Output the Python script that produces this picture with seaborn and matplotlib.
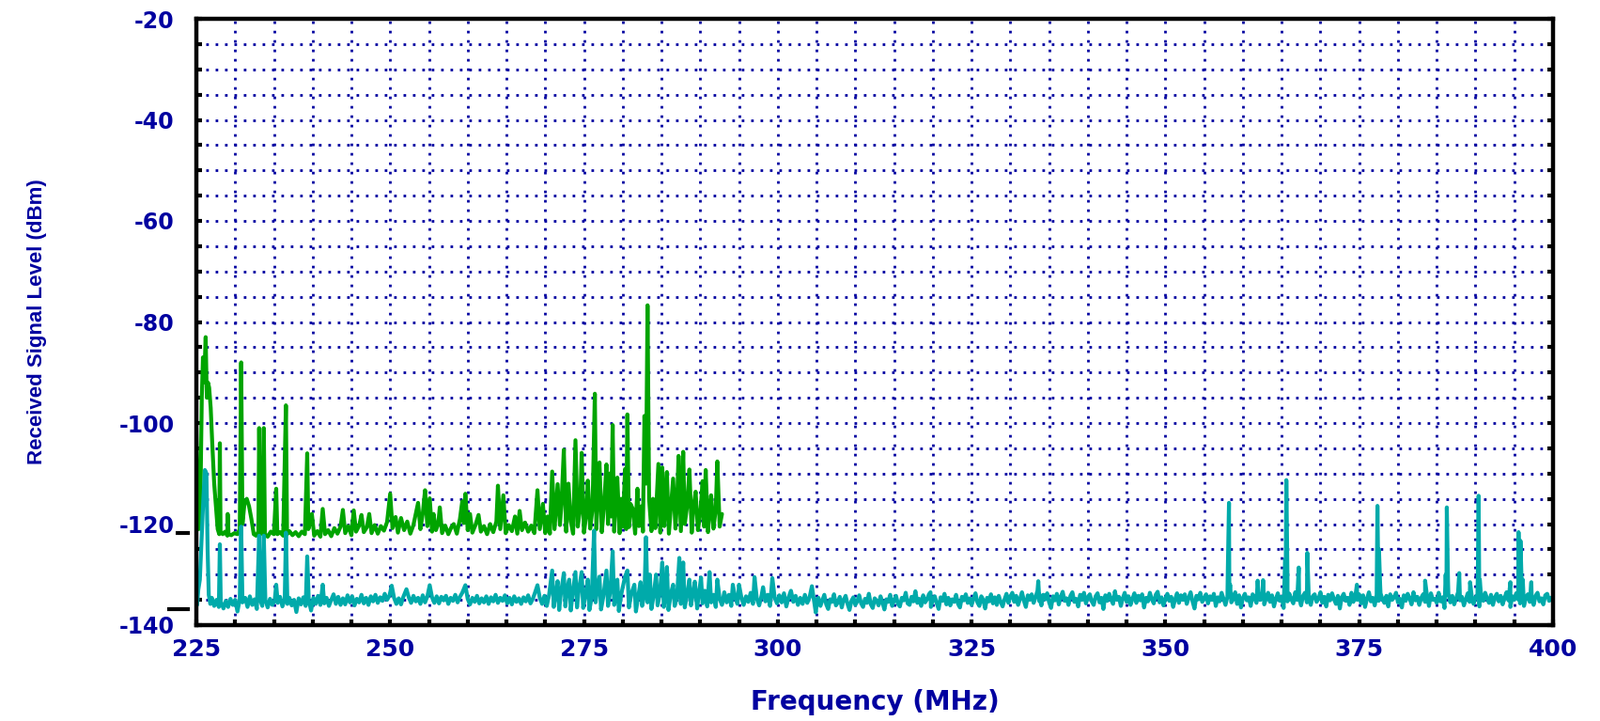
import numpy as np
import pandas as pd
import matplotlib
matplotlib.use("Agg")
import matplotlib.pyplot as plt
import matplotlib.transforms as mtransforms
from matplotlib.ticker import MultipleLocator
import seaborn as sns

# upper trace (green): frequency in MHz, level in dBm
green_freq = [
    225.0, 225.15, 225.3, 225.5, 225.7, 225.85, 226.0, 226.2, 226.35, 226.5,
    226.65, 226.85, 227.05, 227.3, 227.55, 227.75, 227.95, 228.03, 228.12, 228.4,
    228.7, 229.0, 229.04, 229.15, 229.5, 229.9, 230.3, 230.6, 230.78, 230.95,
    231.2, 231.5, 231.8, 232.1, 232.4, 232.7, 233.0, 233.1, 233.25, 233.5,
    233.7, 233.85, 234.2, 234.6, 235.0, 235.3, 235.45, 235.8, 236.2, 236.55,
    236.7, 237.0, 237.4, 237.8, 238.2, 238.6, 239.0, 239.3, 239.45, 239.9,
    240.2, 240.6, 241.0, 241.3, 241.6, 242.0, 242.4, 242.8, 243.2, 243.6,
    243.9, 244.2, 244.6, 245.0, 245.3, 245.6, 246.0, 246.3, 246.6, 247.0,
    247.3, 247.6, 248.0, 248.4, 248.8, 249.2, 249.6, 250.0, 250.3, 250.7,
    251.0, 251.4, 251.8, 252.2, 252.6, 253.0, 253.6, 253.9, 254.2, 254.5,
    254.8, 255.1, 255.4, 255.6, 255.9, 256.2, 256.4, 256.7, 257.1, 257.5,
    257.9, 258.2, 258.6, 259.0, 259.3, 259.5, 259.7, 260.0, 260.3, 260.6,
    261.0, 261.4, 261.7, 262.1, 262.5, 262.9, 263.3, 263.7, 263.9, 264.2,
    264.6, 264.9, 265.3, 265.7, 266.1, 266.4, 266.7, 267.0, 267.4, 267.8,
    268.2, 268.6, 269.0, 269.3, 269.7, 270.0, 270.3, 270.6, 270.9, 271.2,
    271.6, 271.9, 272.1, 272.4, 272.7, 273.0, 273.3, 273.6, 273.9, 274.2,
    274.5, 274.7, 275.0, 275.3, 275.5, 275.8, 276.1, 276.4, 276.6, 276.8,
    277.0, 277.3, 277.6, 277.9, 278.1, 278.3, 278.5, 278.7, 278.9, 279.1,
    279.3, 279.6, 279.8, 280.0, 280.3, 280.45, 280.6, 280.8, 281.0, 281.3,
    281.6, 281.9, 282.1, 282.4, 282.6, 282.8, 283.0, 283.2, 283.4, 283.7,
    283.9, 284.2, 284.4, 284.6, 284.85, 285.1, 285.35, 285.5, 285.7, 285.95,
    286.2, 286.5, 286.8, 287.0, 287.2, 287.5, 287.8, 288.0, 288.3, 288.6,
    288.9, 289.1, 289.4, 289.7, 290.0, 290.3, 290.5, 290.7, 291.0, 291.2,
    291.4, 291.7, 292.0, 292.2, 292.5, 292.8,
]
green_level = [
    -101, -112, -121, -118, -95, -87, -92, -83, -95, -92,
    -93, -97, -104, -112, -117, -121, -122, -104, -121.5, -122,
    -121.5, -122.3, -118, -122, -122.2, -121.8, -122, -121, -88, -120,
    -116, -115, -116.5, -119, -122, -122.3, -121.5, -101, -122, -121.8,
    -101, -122, -122.5, -121.5, -122, -113, -122, -121.6, -122.3, -96.5,
    -122, -121.4, -122.2, -121.6, -122.4, -121.5, -122, -106, -121, -118,
    -122.3, -121.4, -122.5, -117, -122, -121.2, -122.4, -120.8, -121.9, -120.5,
    -117.2, -121.8, -120.4, -122.2, -117.3, -121.5, -120.3, -118.2, -121.6, -120.6,
    -118, -121.8, -120.2, -121.9, -120.4, -121.3, -119.6, -114, -120.8, -118.6,
    -121.7, -118.8, -121.2, -119.5, -121.9, -120.2, -115.8, -121, -118, -113.3,
    -120.4, -114.9, -121.5, -118, -121.2, -120, -116.7, -121.8, -120.3, -122,
    -120.6, -120, -121.9, -119, -115.5, -119.8, -114, -121.2, -118, -121.7,
    -120.2, -118.2, -121.5, -120.4, -122, -120, -121.6, -119.5, -112.4, -121,
    -114.3, -121.8, -120.2, -121.4, -118.5, -121.9, -117.4, -121.2, -119.7, -121.5,
    -120.3, -121.8, -113.3, -121, -116, -121.8, -118.5, -121.9, -109.6, -121,
    -112.1, -120.2, -116, -105.3, -121.5, -112, -119.5, -121.9, -103.4, -120.5,
    -117, -105.9, -121.7, -118, -111.4, -120.9, -117, -94.2, -121, -114,
    -107.8, -121.6, -116, -108.2, -120, -110, -118.5, -100.4, -121.5, -115.5,
    -110.8, -121.8, -115, -120.5, -109.1, -121, -98.3, -120.6, -116, -117,
    -121.9, -113, -120.4, -116.5, -121.5, -98.6, -112, -76.7, -115, -121.4,
    -115, -120.8, -114.5, -108.1, -121.7, -108.8, -120.4, -115.5, -109.7, -121.9,
    -117, -111, -120.9, -116, -106.5, -121.4, -105.7, -120, -116.5, -109.2,
    -121.7, -117, -113.6, -121.2, -118, -111.5, -120.5, -109.3, -121.6, -117.5,
    -114.3, -120.9, -117, -107.6, -120.5, -118,
]

# lower trace (teal), 225-305 MHz read point by point
teal_freq_low = [
    225.0, 225.1, 225.25, 225.45, 225.65, 225.9, 226.1, 226.3, 226.45, 226.6,
    226.8, 227.0, 227.3, 227.6, 227.9, 228.03, 228.15, 228.5, 228.8, 229.1,
    229.4, 229.7, 230.0, 230.3, 230.6, 230.78, 230.95, 231.3, 231.6, 231.9,
    232.2, 232.5, 232.8, 233.1, 233.3, 233.5, 233.7, 233.9, 234.2, 234.5,
    234.8, 235.1, 235.3, 235.5, 235.8, 236.1, 236.4, 236.55, 236.75, 237.0,
    237.3, 237.6, 237.9, 238.2, 238.5, 238.8, 239.1, 239.3, 239.5, 239.8,
    240.1, 240.4, 240.7, 241.0, 241.3, 241.5, 241.8, 242.1, 242.4, 242.7,
    243.0, 243.3, 243.6, 243.9, 244.2, 244.5, 244.8, 245.1, 245.4, 245.7,
    246.0, 246.3, 246.6, 246.9, 247.2, 247.5, 247.8, 248.1, 248.4, 248.7,
    249.0, 249.3, 249.6, 249.9, 250.2, 250.5, 250.8, 251.1, 251.4, 251.7,
    252.1, 252.4, 252.7, 253.0, 253.3, 253.6, 253.9, 254.2, 254.5, 254.8,
    255.1, 255.4, 255.7, 256.0, 256.3, 256.6, 256.9, 257.2, 257.5, 257.8,
    258.1, 258.4, 258.7, 259.0, 259.3, 259.7, 260.0, 260.3, 260.6, 260.9,
    261.2, 261.5, 261.8, 262.1, 262.4, 262.7, 263.0, 263.3, 263.6, 263.9,
    264.2, 264.5, 264.8, 265.1, 265.4, 265.7, 266.0, 266.3, 266.6, 266.9,
    267.2, 267.5, 267.8, 268.1, 268.4, 268.7, 269.0, 269.3, 269.6, 269.9,
    270.2, 270.5, 270.9, 271.1, 271.3, 271.6, 271.8, 272.0, 272.4, 272.6,
    272.8, 273.1, 273.3, 273.5, 273.9, 274.1, 274.3, 274.7, 274.9, 275.2,
    275.5, 275.7, 276.0, 276.3, 276.5, 276.7, 277.0, 277.2, 277.5, 277.9,
    278.1, 278.4, 278.7, 278.9, 279.1, 279.3, 279.5, 279.8, 280.0, 280.3,
    280.6, 280.8, 281.1, 281.5, 281.7, 282.0, 282.3, 282.5, 282.8, 283.0,
    283.2, 283.5, 283.7, 284.0, 284.3, 284.5, 284.8, 285.1, 285.3, 285.5,
    285.7, 285.9, 286.2, 286.5, 286.7, 287.0, 287.3, 287.5, 287.8, 288.0,
    288.3, 288.6, 288.8, 289.1, 289.3, 289.6, 289.8, 290.1, 290.3, 290.6,
    290.9, 291.2, 291.4, 291.7, 292.0, 292.2, 292.5, 292.8, 293.1, 293.4,
    293.7, 294.0, 294.2, 294.5, 294.8, 295.0, 295.3, 295.6, 295.9, 296.2,
    296.5, 296.8, 297.0, 297.3, 297.6, 297.9, 298.1, 298.4, 298.7, 299.0,
    299.3, 299.6, 299.9, 300.2, 300.5, 300.8, 301.1, 301.4, 301.7, 302.0,
    302.3, 302.6, 302.9, 303.2, 303.5, 303.8, 304.1, 304.4, 304.7, 304.9,
    305.1,
]
teal_level_low = [
    -129.5, -136, -133, -131, -124, -115, -109.3, -110, -125, -134,
    -135.8, -134.6, -136.2, -135, -136.4, -124, -135.4, -136.7, -135.2, -136.4,
    -134.8, -136, -135, -137.3, -134.9, -120.5, -135.5, -134.6, -136.4, -134.3,
    -136, -134.9, -136.8, -122.3, -135.3, -136.2, -122.3, -135, -136.5, -134.8,
    -136, -135.2, -132, -135.6, -134.4, -136.3, -134.9, -121.7, -135.8, -134.6,
    -136.1, -135, -137.4, -134.7, -135.9, -134.5, -136.2, -126.4, -135.1, -137.1,
    -134.6, -135.8, -134.2, -136, -132, -135.7, -134.6, -136.2, -135, -133.9,
    -135.8, -134.4, -136, -134.7, -135.9, -134.1, -135.5, -134.3, -136.1, -134.8,
    -135.5, -134, -135.7, -134.6, -136, -134.3, -135.3, -134, -135.6, -134.5,
    -135.2, -133.8, -135, -134.2, -132.2, -134.6, -135.8, -134.7, -135.9, -134.4,
    -132.9, -134.5, -135.6, -134.2, -135.3, -134.6, -135.8, -134.1, -135.5, -134.3,
    -132.1, -134.5, -135.6, -134.3, -135.7, -134.4, -135.1, -134.2, -135.8, -134.6,
    -135.2, -134, -135.5, -134.4, -133.6, -132.1, -134.8, -135.9, -134.6, -135.4,
    -134.2, -135.7, -134.7, -135.5, -134.3, -135.8, -134.5, -135.3, -134, -135.6,
    -134.6, -135.2, -134.1, -135.7, -134.6, -135.9, -134.3, -135.4, -134.7, -135.8,
    -134.5, -135.3, -134.1, -135.7, -134.8, -133.5, -132.1, -134.6, -135.8, -134.2,
    -136.2, -134, -129.2, -136.4, -134.5, -131.3, -137, -134, -129.7, -136.3,
    -133, -131, -137.1, -134.2, -129.5, -136.5, -133.5, -129.5, -136.6, -134,
    -131, -137, -134.5, -121.3, -135.5, -133, -130.4, -136.9, -134.3, -129.2,
    -136.2, -133.2, -125.4, -136, -134.2, -131, -137.2, -134, -132.5, -130.4,
    -129.2, -136.5, -133.8, -132, -137.3, -134.3, -131.5, -136.2, -134, -122.6,
    -135.5, -130, -136.8, -134, -130, -136.1, -133.6, -127.6, -136.4, -134,
    -128.5, -137, -133.8, -132, -136.2, -134.5, -126.7, -135.8, -127.6, -136.5,
    -134, -131, -136.1, -133.5, -131.4, -136.7, -134, -130.6, -135.7, -133.2,
    -136.3, -129.5, -135.5, -134, -136.4, -131, -134.8, -136, -133.5, -135.5,
    -134, -136.2, -132, -134.6, -135.8, -132, -134.5, -136, -134.3, -135.4,
    -133.6, -135.8, -130.5, -134.8, -136.1, -134.2, -132.5, -135.3, -134, -136.2,
    -130.7, -134.6, -135.7, -134.1, -135.5, -133.7, -136.3, -134.5, -133.2, -135.4,
    -134.2, -136, -134.6, -135.8, -134, -135.6, -134.5, -132.3, -135.5, -137.5,
    -134.8,
]

# lower trace, 305.25-400 MHz on a 0.25 MHz grid
teal_grid_start = 305.25
teal_grid_step = 0.25
teal_level_high = [
    -134.6, -136.2, -135.1, -134.0, -135.9, -136.8, -134.9, -135.4, -133.9, -136.1,
    -135.5, -134.4, -136.5, -135.0, -134.2, -135.8, -137.0, -135.2, -134.5, -136.0,
    -135.3, -134.1, -135.7, -136.4, -134.8, -135.6, -133.8, -135.9, -136.6, -134.7,
    -135.2, -136.1, -134.3, -135.5, -136.9, -134.9, -135.4, -134.0, -136.2, -135.1,
    -134.2, -135.8, -136.3, -134.6, -135.1, -133.6, -135.7, -136.0, -134.4, -135.3,
    -133.3, -135.6, -134.8, -136.2, -134.1, -135.5, -134.9, -133.9, -136.4, -135.0,
    -134.3, -135.7, -136.8, -134.5, -135.2, -133.8, -135.9, -134.6, -136.1, -134.9,
    -135.4, -134.0, -135.8, -136.5, -134.4, -135.1, -133.9, -135.6, -134.7, -136.0,
    -134.8, -133.7, -135.5, -136.2, -134.3, -135.0, -136.7, -134.6, -135.3, -133.9,
    -135.7, -134.5, -136.0, -134.2, -135.4, -136.3, -134.9, -133.8, -135.6, -134.4,
    -133.6, -135.4, -134.2, -136.0, -134.8, -133.5, -135.2, -136.4, -134.1, -135.0,
    -133.9, -135.6, -134.5, -133.2, -135.3, -136.1, -134.0, -134.9, -133.7, -135.5,
    -136.6, -134.3, -135.1, -133.8, -135.9, -134.4, -133.4, -135.2, -134.7, -136.0,
    -134.2, -133.5, -135.4, -134.8, -136.3, -134.0, -135.0, -133.6, -135.7, -134.5,
    -133.9, -135.3, -136.0, -134.3, -133.7, -135.5, -134.6, -136.8, -134.1, -135.2,
    -133.8, -134.9, -135.8, -133.5, -135.0, -134.4, -136.2, -134.7, -133.6, -135.4,
    -134.3, -136.0, -134.8, -133.7, -135.6, -134.2, -135.1, -133.9, -136.5, -134.6,
    -135.3, -133.6, -134.9, -135.7, -134.0, -133.4, -135.5, -134.5, -136.1, -134.8,
    -133.8, -135.2, -134.4, -136.4, -134.9, -133.7, -135.6, -134.1, -135.0, -133.9,
    -135.8, -134.6, -133.5, -135.3, -136.7, -134.2, -134.9, -133.6, -135.4, -134.7,
    -133.9, -135.7, -134.3, -135.0, -133.8, -136.2, -134.5, -135.3, -133.6, -134.8,
    -136.0, -134.4, -133.7, -135.5, -134.9, -133.5, -135.8, -134.1, -136.5, -134.6,
    -133.8, -135.1, -134.5, -136.2, -133.9, -134.7, -135.6, -133.4, -135.0, -134.3,
    -135.9, -134.6, -133.6, -135.4, -134.1, -136.3, -134.8, -133.7, -135.2, -134.4,
    -136.6, -134.0, -135.3, -133.8, -134.9, -135.7, -133.5, -135.0, -134.6, -136.1,
    -134.2, -133.6, -135.5, -134.7, -136.0, -134.3, -133.9, -135.4, -134.8, -133.5,
    -135.6, -134.4, -136.3, -134.0, -135.1, -133.7, -134.9, -135.8, -134.2, -136.7,
    -134.5, -133.8, -135.2, -134.6, -136.0, -133.6, -135.4, -134.3, -135.0, -133.9,
    -135.7, -134.1, -136.4, -134.8, -133.5, -135.3, -134.6, -136.1, -134.0, -135.2,
    -133.7, -134.9, -135.6, -134.2, -136.3, -133.9, -135.0, -134.5, -133.6, -135.5,
    -134.8, -136.5, -134.1, -135.2, -133.8, -134.7, -135.9, -133.5, -135.1, -134.4,
    -136.0, -134.6, -133.9, -135.4, -134.3, -136.2, -133.7, -135.0, -134.8, -135.6,
    -133.6, -135.3, -134.5, -136.6, -134.0, -133.8, -135.5, -134.2, -135.9, -134.7,
    -133.5, -135.1, -134.4, -136.1, -134.9, -133.7, -135.4, -134.1, -135.8, -134.6,
    -133.9, -136.3, -134.7, -135.2, -133.6, -134.8, -135.6, -134.0, -136.0, -134.5,
    -133.8, -135.3, -134.2, -135.9, -134.6, -133.5, -135.1, -136.4, -134.3, -135.0,
    -133.7, -134.9, -135.7, -134.1, -136.2, -134.6, -133.9, -135.4, -134.8, -136.0,
    -134.2, -133.6, -135.3, -134.7, -135.9, -134.1, -133.8, -135.2, -134.6, -134.5,
]

# narrow carriers on the lower trace above 305 MHz
teal_spike_freq = [
    319.7, 333.6, 333.8, 343.5, 358.05, 358.2, 358.35, 361.9, 362.6, 365.45,
    365.6, 365.75, 367.2, 368.3, 374.7, 377.35, 377.55, 377.7, 383.5, 386.15,
    386.3, 386.45, 387.9, 389.3, 390.3, 390.4, 390.55, 394.5, 395.55, 395.8,
    396.1, 397.2,
]
teal_spike_level = [
    -133.5, -131.3, -134, -133.3, -129, -115.8, -132, -131.2, -131.1, -127,
    -111.3, -131, -128.6, -125.7, -132, -116.4, -125, -132, -131.2, -130,
    -116.7, -131, -129.7, -131.5, -130, -114.4, -131, -131.5, -121.6, -123.3,
    -131, -131.5,
]

# short marks left of the axis showing the two noise floors
floor_marks = [-121.8, -136.9]
floor_mark_start = [-0.0155, -0.0215]

x_ticks = [225, 250, 275, 300, 325, 350, 375, 400]
y_ticks = [-140, -120, -100, -80, -60, -40, -20]

BLUE = "#0000A0"
GREEN = "#00A400"
TEAL = "#00AAAA"

sns.set_style("white")
plt.rcParams["font.family"] = ["DejaVu Sans"]
plt.rcParams["axes.unicode_minus"] = False

green = pd.DataFrame({"freq": green_freq, "level": green_level})
teal_high = pd.DataFrame({
    "freq": teal_grid_start + teal_grid_step * np.arange(len(teal_level_high)),
    "level": teal_level_high,
})
teal = pd.concat([
    pd.DataFrame({"freq": teal_freq_low, "level": teal_level_low}),
    teal_high,
    pd.DataFrame({"freq": teal_spike_freq, "level": teal_spike_level}),
]).sort_values("freq").reset_index(drop=True)

fig = plt.figure(figsize=(17.03, 7.67), dpi=100)
ax = fig.add_axes([209 / 1703, 1 - 665 / 767, 1444 / 1703, 645 / 767])

sns.lineplot(data=green, x="freq", y="level", color=GREEN, linewidth=3.0,
             sort=False, estimator=None, ax=ax)
sns.lineplot(data=teal, x="freq", y="level", color=TEAL, linewidth=3.0,
             sort=False, estimator=None, ax=ax)

ax.set_xlim(225, 400)
ax.set_ylim(-140, -20)
ax.set_xticks(x_ticks)
ax.set_yticks(y_ticks)
ax.xaxis.set_minor_locator(MultipleLocator(5))
ax.yaxis.set_minor_locator(MultipleLocator(5))

ax.grid(True, which="both", color=BLUE, linestyle=(0, (1.0, 2.6)),
        linewidth=2.0, dash_capstyle="butt")
ax.set_axisbelow(True)

for side in ["left", "right", "top", "bottom"]:
    ax.spines[side].set_visible(True)
    ax.spines[side].set_color("black")
    ax.spines[side].set_linewidth(3.2)

ax.tick_params(axis="both", which="both", direction="in", color="black",
               width=3, length=4, left=True, right=True, bottom=True, top=False)
ax.tick_params(axis="y", which="major", pad=17, labelsize=17, labelcolor=BLUE)
ax.tick_params(axis="x", which="major", pad=10, labelsize=18, labelcolor=BLUE)
for lab in ax.get_xticklabels() + ax.get_yticklabels():
    lab.set_fontweight("bold")

# noise-floor marks outside the frame
mark_tr = mtransforms.blended_transform_factory(ax.transAxes, ax.transData)
for lvl, x0 in zip(floor_marks, floor_mark_start):
    ax.plot([x0, -0.005], [lvl, lvl], color="black", linewidth=3,
            transform=mark_tr, clip_on=False, solid_capstyle="butt")

ax.set_xlabel("Frequency (MHz)", color=BLUE, fontsize=20, fontweight="bold")
ax.xaxis.set_label_coords(0.5, -0.105)
ax.set_ylabel("Received Signal Level (dBm)", color=BLUE, fontsize=16,
              fontweight="bold", family=["Liberation Sans", "DejaVu Sans"])
ax.yaxis.set_label_coords(-0.11, 0.5)

fig.savefig("out.png", dpi=100)
